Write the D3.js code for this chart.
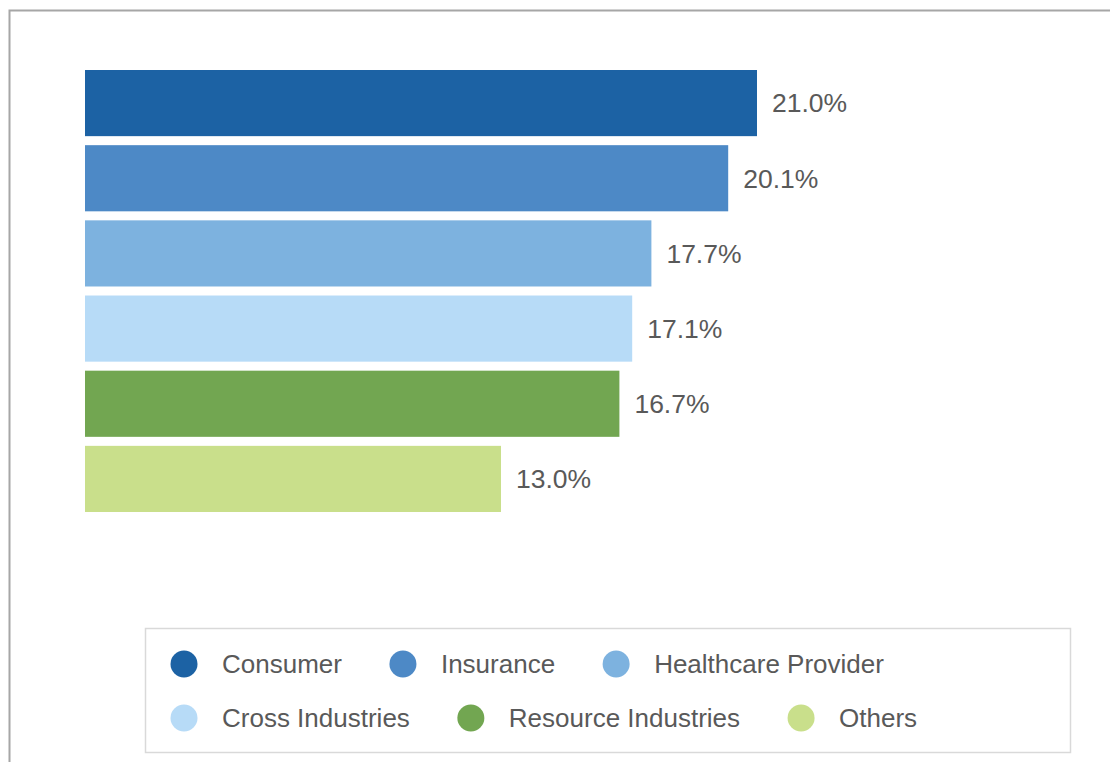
<!DOCTYPE html>
<html>
<head>
<meta charset="utf-8">
<script src="https://cdn.jsdelivr.net/npm/d3@7"></script>
<style>
  body { margin: 0; background: #fff; }
  svg { display: block; font-family: "Liberation Sans", Arial, sans-serif; }
</style>
</head>
<body>
<div id="main-chart"></div>
<script>
var categories = ["Consumer", "Insurance", "Healthcare Provider", "Cross Industries", "Resource Industries", "Others"];
var shares = [21.0, 20.1, 17.7, 17.1, 16.7, 13.0];
var colors = ["#1c62a4", "#4d89c6", "#7db2df", "#b7dbf7", "#72a651", "#c9df8b"];
var legendRows = [[0, 1, 2], [3, 4, 5]];

var width = 1110, height = 762;

var svg = d3.select("#main-chart")
  .append("svg")
  .attr("width", width)
  .attr("height", height);

// frame (only top and left edges show in the picture)
svg.append("path")
  .attr("d", "M9.5," + height + "V10.5H" + width)
  .attr("fill", "none")
  .attr("stroke", "#a6a6a6")
  .attr("stroke-width", 2);

var x = d3.scaleLinear().domain([0, 21]).range([85, 757]);
var y = d3.scaleBand().domain(categories).range([70, 512]).paddingInner(0.12);

var data = categories.map(function(c, i) {
  return { name: c, value: shares[i], color: colors[i] };
});

svg.append("g").attr("class", "bars")
  .selectAll("rect")
  .data(data)
  .enter()
  .append("rect")
  .attr("x", x(0))
  .attr("y", d => y(d.name))
  .attr("width", d => x(d.value) - x(0))
  .attr("height", y.bandwidth())
  .attr("fill", d => d.color);

svg.append("g").attr("class", "labels")
  .selectAll("text")
  .data(data)
  .enter()
  .append("text")
  .attr("x", d => x(d.value) + 15)
  .attr("y", d => y(d.name) + y.bandwidth() / 2)
  .attr("dy", "0.35em")
  .attr("fill", "#595959")
  .style("font-size", "26.5px")
  .text(d => d.value.toFixed(1) + "%");

// legend
svg.append("rect")
  .attr("x", 145.5)
  .attr("y", 628.5)
  .attr("width", 925)
  .attr("height", 124)
  .attr("fill", "#fff")
  .attr("stroke", "#d9d9d9")
  .attr("stroke-width", 1.5);

var legend = svg.append("g").attr("class", "legend");
var rowY = [664, 718];

legendRows.forEach(function(row, r) {
  var cx = 184;
  row.forEach(function(i) {
    var item = legend.append("g");
    item.append("circle")
      .attr("cx", cx)
      .attr("cy", rowY[r])
      .attr("r", 13.5)
      .attr("fill", colors[i]);
    var t = item.append("text")
      .attr("x", cx + 38)
      .attr("y", rowY[r])
      .attr("dy", "0.35em")
      .attr("fill", "#595959")
      .style("font-size", "26px")
      .text(categories[i]);
    var w = t.node().getComputedTextLength();
    cx = cx + 38 + w + 61;
  });
});
</script>
</body>
</html>
